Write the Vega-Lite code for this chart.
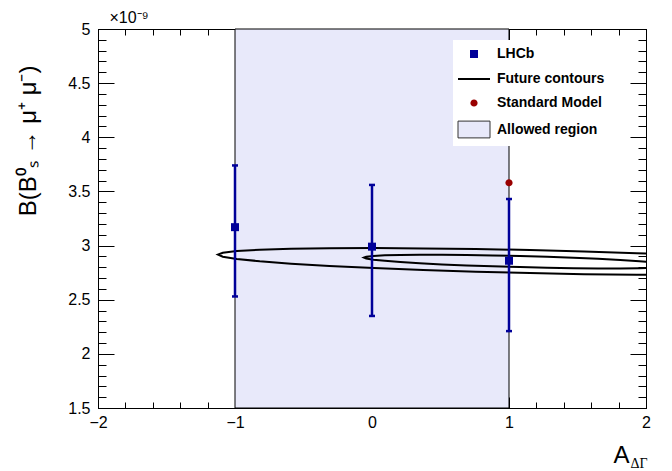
{
  "$schema": "https://vega.github.io/schema/vega-lite/v6.json",
  "autosize": {"type": "none"},
  "padding": {"left": 98, "top": 29, "right": 26, "bottom": 63},
  "width": 548,
  "height": 379,
  "background": "white",
  "config": {
    "view": {"stroke": "black", "strokeWidth": 1},
    "font": "Liberation Sans",
    "axis": {"zindex": 1, "grid": false, "domainColor": "black", "domainWidth": 1, "tickColor": "black", "tickWidth": 1, "labelColor": "black", "labelFont": "Liberation Sans", "titleFont": "Liberation Sans", "titleFontWeight": "normal", "titleColor": "black"},
    "legend": {"orient": "none", "legendX": 355, "legendY": 11, "title": null, "fillColor": "white", "padding": 6, "symbolSize": 256, "symbolOffset": 6, "labelOffset": 14, "labelFontSize": 14, "labelFontWeight": "bold", "labelFont": "Liberation Sans", "labelColor": "black", "rowPadding": 9, "zindex": 1}
  },
  "datasets": {
    "region": [{"lo": -1, "hi": 1}],
    "measurements": [
      {"series": "LHCb", "A": -1, "B": 3.17, "lo": 2.53, "hi": 3.74},
      {"series": "LHCb", "A": 0, "B": 2.99, "lo": 2.35, "hi": 3.56},
      {"series": "LHCb", "A": 1, "B": 2.86, "lo": 2.21, "hi": 3.43},
      {"series": "Standard Model", "A": 1, "B": 3.58}
    ],
    "contours": [
      {"c": "a", "i": 0, "A": 3.430, "B": 2.787}, {"c": "a", "i": 1, "A": 3.395, "B": 2.807}, {"c": "a", "i": 2, "A": 3.293, "B": 2.828}, {"c": "a", "i": 3, "A": 3.125, "B": 2.849},
      {"c": "a", "i": 4, "A": 2.897, "B": 2.871}, {"c": "a", "i": 5, "A": 2.617, "B": 2.892}, {"c": "a", "i": 6, "A": 2.292, "B": 2.912}, {"c": "a", "i": 7, "A": 1.932, "B": 2.930},
      {"c": "a", "i": 8, "A": 1.548, "B": 2.946}, {"c": "a", "i": 9, "A": 1.153, "B": 2.959}, {"c": "a", "i": 10, "A": 0.758, "B": 2.968}, {"c": "a", "i": 11, "A": 0.374, "B": 2.974},
      {"c": "a", "i": 12, "A": 0.015, "B": 2.977}, {"c": "a", "i": 13, "A": -0.311, "B": 2.975}, {"c": "a", "i": 14, "A": -0.591, "B": 2.970}, {"c": "a", "i": 15, "A": -0.819, "B": 2.961},
      {"c": "a", "i": 16, "A": -0.987, "B": 2.949}, {"c": "a", "i": 17, "A": -1.089, "B": 2.934}, {"c": "a", "i": 18, "A": -1.124, "B": 2.917}, {"c": "a", "i": 19, "A": -1.089, "B": 2.897},
      {"c": "a", "i": 20, "A": -0.987, "B": 2.877}, {"c": "a", "i": 21, "A": -0.819, "B": 2.855}, {"c": "a", "i": 22, "A": -0.591, "B": 2.833}, {"c": "a", "i": 23, "A": -0.311, "B": 2.812},
      {"c": "a", "i": 24, "A": 0.015, "B": 2.792}, {"c": "a", "i": 25, "A": 0.374, "B": 2.774}, {"c": "a", "i": 26, "A": 0.758, "B": 2.758}, {"c": "a", "i": 27, "A": 1.153, "B": 2.746},
      {"c": "a", "i": 28, "A": 1.548, "B": 2.736}, {"c": "a", "i": 29, "A": 1.932, "B": 2.730}, {"c": "a", "i": 30, "A": 2.292, "B": 2.727}, {"c": "a", "i": 31, "A": 2.617, "B": 2.729},
      {"c": "a", "i": 32, "A": 2.897, "B": 2.734}, {"c": "a", "i": 33, "A": 3.125, "B": 2.743}, {"c": "a", "i": 34, "A": 3.293, "B": 2.755}, {"c": "a", "i": 35, "A": 3.395, "B": 2.770},
      {"c": "a", "i": 36, "A": 3.430, "B": 2.787},
      {"c": "b", "i": 0, "A": 2.219, "B": 2.815}, {"c": "b", "i": 1, "A": 2.202, "B": 2.824}, {"c": "b", "i": 2, "A": 2.150, "B": 2.835}, {"c": "b", "i": 3, "A": 2.066, "B": 2.845},
      {"c": "b", "i": 4, "A": 1.953, "B": 2.856}, {"c": "b", "i": 5, "A": 1.812, "B": 2.867}, {"c": "b", "i": 6, "A": 1.650, "B": 2.878}, {"c": "b", "i": 7, "A": 1.470, "B": 2.887},
      {"c": "b", "i": 8, "A": 1.278, "B": 2.896}, {"c": "b", "i": 9, "A": 1.080, "B": 2.903}, {"c": "b", "i": 10, "A": 0.882, "B": 2.909}, {"c": "b", "i": 11, "A": 0.690, "B": 2.913},
      {"c": "b", "i": 12, "A": 0.511, "B": 2.915}, {"c": "b", "i": 13, "A": 0.348, "B": 2.915}, {"c": "b", "i": 14, "A": 0.207, "B": 2.913}, {"c": "b", "i": 15, "A": 0.094, "B": 2.910},
      {"c": "b", "i": 16, "A": 0.010, "B": 2.904}, {"c": "b", "i": 17, "A": -0.042, "B": 2.897}, {"c": "b", "i": 18, "A": -0.059, "B": 2.889}, {"c": "b", "i": 19, "A": -0.042, "B": 2.880},
      {"c": "b", "i": 20, "A": 0.010, "B": 2.869}, {"c": "b", "i": 21, "A": 0.094, "B": 2.859}, {"c": "b", "i": 22, "A": 0.207, "B": 2.848}, {"c": "b", "i": 23, "A": 0.348, "B": 2.837},
      {"c": "b", "i": 24, "A": 0.511, "B": 2.826}, {"c": "b", "i": 25, "A": 0.690, "B": 2.817}, {"c": "b", "i": 26, "A": 0.882, "B": 2.808}, {"c": "b", "i": 27, "A": 1.080, "B": 2.801},
      {"c": "b", "i": 28, "A": 1.278, "B": 2.795}, {"c": "b", "i": 29, "A": 1.470, "B": 2.791}, {"c": "b", "i": 30, "A": 1.650, "B": 2.789}, {"c": "b", "i": 31, "A": 1.812, "B": 2.789},
      {"c": "b", "i": 32, "A": 1.953, "B": 2.791}, {"c": "b", "i": 33, "A": 2.066, "B": 2.794}, {"c": "b", "i": 34, "A": 2.150, "B": 2.800}, {"c": "b", "i": 35, "A": 2.202, "B": 2.807},
      {"c": "b", "i": 36, "A": 2.219, "B": 2.815}
    ]
  },
  "resolve": {"axis": {"x": "independent", "y": "independent"}},
  "layer": [
    {
      "data": {"name": "region"},
      "mark": {"type": "rect", "fill": "#e8e9fa", "stroke": "black", "strokeWidth": 1},
      "encoding": {
        "x": {"field": "lo", "type": "quantitative",
          "axis": {"orient": "bottom", "values": [-2, -1, 0, 1, 2], "tickSize": -11, "format": "~g", "labelPadding": 17, "labelFontSize": 16, "labelFlush": false, "labelOverlap": false,
            "title": "A", "titleFontSize": 24, "titleAlign": "right", "titleAnchor": "end", "titleBaseline": "alphabetic", "titleX": 531, "titleY": 54}},
        "x2": {"field": "hi"}
      }
    },
    {
      "data": {"name": "contours"},
      "mark": {"type": "line", "color": "black", "strokeWidth": 2, "clip": true},
      "encoding": {
        "x": {"field": "A", "type": "quantitative", "scale": {"domain": [-2, 2], "nice": false, "zero": false},
          "axis": {"orient": "bottom", "values": [-2, -1.8, -1.6, -1.4, -1.2, -1, -0.8, -0.6, -0.4, -0.2, 0, 0.2, 0.4, 0.6, 0.8, 1, 1.2, 1.4, 1.6, 1.8, 2], "tickSize": -6, "labels": false, "domain": false,
            "title": "ΔΓ", "titleFont": "Liberation Serif", "titleFontSize": 14, "titleAlign": "left", "titleBaseline": "alphabetic", "titleX": 532, "titleY": 59}},
        "y": {"field": "B", "type": "quantitative", "scale": {"domain": [1.5, 5], "nice": false, "zero": false},
          "axis": {"orient": "left", "values": [1.5, 2, 2.5, 3, 3.5, 4, 4.5, 5], "tickSize": -16, "format": "~g", "labelPadding": 24, "labelFontSize": 16, "labelFlush": false, "labelOverlap": false,
            "title": "B(B⁰ₛ → μ⁺ μ⁻)", "titleFontSize": 24, "titleAngle": -90, "titleAlign": "right", "titleBaseline": "alphabetic", "titleX": -63, "titleY": 36}},
        "detail": {"field": "c"},
        "order": {"field": "i", "type": "quantitative"}
      }
    },
    {
      "data": {"name": "measurements"},
      "transform": [{"filter": "datum.series === 'LHCb'"}],
      "mark": {"type": "rule", "color": "#000099", "strokeWidth": 2.5},
      "encoding": {
        "x": {"field": "A", "type": "quantitative",
          "axis": {"orient": "top", "values": [-2, -1, 0, 1, 2], "tickSize": -11, "labels": false,
            "title": "×10⁻⁹", "titleFontSize": 16, "titleAlign": "left", "titleBaseline": "alphabetic", "titleAngle": 0, "titleX": 11, "titleY": -7}},
        "y": {"field": "lo", "type": "quantitative",
          "axis": {"orient": "left", "values": [1.5, 1.6, 1.7, 1.8, 1.9, 2, 2.1, 2.2, 2.3, 2.4, 2.5, 2.6, 2.7, 2.8, 2.9, 3, 3.1, 3.2, 3.3, 3.4, 3.5, 3.6, 3.7, 3.8, 3.9, 4, 4.1, 4.2, 4.3, 4.4, 4.5, 4.6, 4.7, 4.8, 4.9, 5], "tickSize": -8, "labels": false, "domain": false, "title": null}},
        "y2": {"field": "hi"}
      }
    },
    {
      "data": {"name": "measurements"},
      "transform": [{"filter": "datum.series === 'LHCb'"}],
      "mark": {"type": "tick", "orient": "horizontal", "color": "#000099", "size": 6, "thickness": 2.5, "opacity": 1},
      "encoding": {
        "x": {"field": "A", "type": "quantitative",
          "axis": {"orient": "top", "values": [-2, -1.8, -1.6, -1.4, -1.2, -1, -0.8, -0.6, -0.4, -0.2, 0, 0.2, 0.4, 0.6, 0.8, 1, 1.2, 1.4, 1.6, 1.8, 2], "tickSize": -6, "labels": false, "domain": false, "title": null}},
        "y": {"field": "lo", "type": "quantitative",
          "axis": {"orient": "right", "values": [1.5, 2, 2.5, 3, 3.5, 4, 4.5, 5], "tickSize": -16, "labels": false, "title": null}}
      }
    },
    {
      "data": {"name": "measurements"},
      "transform": [{"filter": "datum.series === 'LHCb'"}],
      "mark": {"type": "tick", "orient": "horizontal", "color": "#000099", "size": 6, "thickness": 2.5, "opacity": 1},
      "encoding": {
        "x": {"field": "A", "type": "quantitative", "axis": null},
        "y": {"field": "hi", "type": "quantitative",
          "axis": {"orient": "right", "values": [1.5, 1.6, 1.7, 1.8, 1.9, 2, 2.1, 2.2, 2.3, 2.4, 2.5, 2.6, 2.7, 2.8, 2.9, 3, 3.1, 3.2, 3.3, 3.4, 3.5, 3.6, 3.7, 3.8, 3.9, 4, 4.1, 4.2, 4.3, 4.4, 4.5, 4.6, 4.7, 4.8, 4.9, 5], "tickSize": -8, "labels": false, "domain": false, "title": null}}
      }
    },
    {
      "data": {"name": "measurements"},
      "mark": {"type": "point", "opacity": 1, "size": 256},
      "encoding": {
        "x": {"field": "A", "type": "quantitative", "axis": null},
        "y": {"field": "B", "type": "quantitative", "axis": null},
        "fill": {"field": "series", "type": "nominal",
          "scale": {"domain": ["LHCb", "Future contours", "Standard Model", "Allowed region"], "range": ["#000099", "transparent", "#990000", "#e8e9fa"]}},
        "stroke": {"field": "series", "type": "nominal",
          "scale": {"domain": ["LHCb", "Future contours", "Standard Model", "Allowed region"], "range": ["transparent", "black", "transparent", "#333333"]}},
        "strokeWidth": {"field": "series", "type": "nominal",
          "scale": {"type": "ordinal", "domain": ["LHCb", "Future contours", "Standard Model", "Allowed region"], "range": [0, 2, 0, 1]}},
        "shape": {"field": "series", "type": "nominal",
          "scale": {"domain": ["LHCb", "Future contours", "Standard Model", "Allowed region"], "range": ["M-0.5,-0.5H0.5V0.5H-0.5Z", "M-2,0H2", "M0.45,0A0.45,0.45 0 1,1 -0.45,0A0.45,0.45 0 1,1 0.45,0Z", "M-2,-1.05H2V1.05H-2Z"]}}
      }
    }
  ]
}
